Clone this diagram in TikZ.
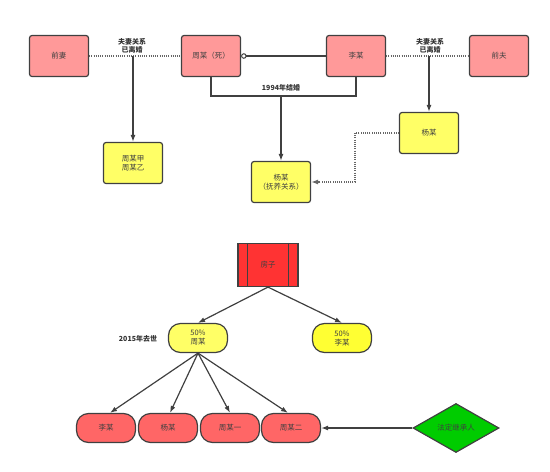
\documentclass[tikz,border=0pt]{standalone}
\usepackage{fontspec}
\newfontfamily\cjk{Noto Sans CJK SC}
\usetikzlibrary{arrows.meta,shapes.geometric,calc}
\definecolor{pinkc}{HTML}{FF9999}
\definecolor{yelc}{HTML}{FFFF66}
\definecolor{yel2}{HTML}{FFFF33}
\definecolor{salc}{HTML}{FF6666}
\definecolor{redc}{HTML}{FF3333}
\definecolor{grnc}{HTML}{00CC00}
\definecolor{edgec}{HTML}{404040}
\tikzset{
 base/.style={draw=edgec, line width=1.2pt, font=\cjk\fontsize{7.5}{9}\selectfont, text=black!75, align=center, inner sep=1pt},
 pbox/.style={base, fill=pinkc, rounded corners=2.5pt, minimum width=59pt, minimum height=41pt},
 ybox/.style={base, fill=yelc, rounded corners=2.5pt, minimum width=59pt, minimum height=41pt},
 pill/.style={base, rounded corners=12pt, minimum width=59pt, minimum height=29pt},
 lbl/.style={font=\cjk\bfseries\fontsize{7}{8.5}\selectfont, text=black!80, align=center, inner sep=0pt},
 conn/.style={draw=edgec, line width=1.2pt},
 arr/.style={conn, -{Latex[length=7pt,width=5pt]}},
 dotl/.style={conn, draw=black!60, dash pattern=on 1pt off 1.2pt, line width=1.2pt},
}
\begin{document}
\begin{tikzpicture}[x=1pt,y=-1pt]
\useasboundingbox (0,0) rectangle (550,472);
% top row
\node[pbox] (qianqi) at (59,56) {前妻};
\node[pbox] (zhou) at (211,56) {周某（死）};
\node[pbox] (li) at (356,56) {李某};
\node[pbox] (qianfu) at (499,56) {前夫};
\node[ybox] (zj) at (133,163) {周某甲\\周某乙};
\node[ybox] (yf) at (281,182) {杨某\\（抚养关系）};
\node[ybox] (yang) at (429,133) {杨某};
\node[lbl] (l1) at (132,46) {夫妻关系\\已离婚};
\node[lbl] (l2) at (430,46) {夫妻关系\\已离婚};
\node[lbl] (l3) at (281,88) {1994年结婚};
\coordinate (m1) at (zj.north |- qianqi.east);
\coordinate (m2) at (yang.north |- li.east);
\coordinate (m3) at (281,96);
\draw[dotl] (qianqi.east) -- (zhou.west);
\draw[dotl] (li.east) -- (qianfu.west);
\draw[arr] (m1) -- (zj.north);
\draw[arr] (m2) -- (yang.north);
\draw[conn, {Circle[open,length=5.5pt,width=5.5pt,line width=1pt]}-] (zhou.east) -- (li.west);
\draw[conn] (zhou.south) |- (m3) -| (li.south);
\draw[arr] (m3) -- (yf.north);
\draw[dotl, -{Latex[length=7pt,width=5pt]}] (yang.west) -- ++(-44,0) |- (yf.east);
% middle
\node[base, fill=redc, minimum width=60pt, minimum height=43pt] (fz) at (268,265) {房子};
\draw[conn] ([xshift=10pt]fz.north west) -- ([xshift=10pt]fz.south west);
\draw[conn] ([xshift=-10pt]fz.north east) -- ([xshift=-10pt]fz.south east);
\node[pill, fill=yelc] (pz) at (198,338) {50\%\\周某};
\node[pill, fill=yel2] (pl) at (342,338) {50\%\\李某};
\node[lbl] (l4) at (138,339) {2015年去世};
\draw[arr] (fz.south) -- (pz.north);
\draw[arr] (fz.south) -- (pl.north);
% bottom
\node[pill, fill=salc] (b1) at (106,428) {李某};
\node[pill, fill=salc] (b2) at (168,428) {杨某};
\node[pill, fill=salc] (b3) at (230,428) {周某一};
\node[pill, fill=salc] (b4) at (291,428) {周某二};
\node[base, diamond, fill=grnc, minimum width=86pt, minimum height=49pt, aspect=1.75, inner sep=0pt] (dm) at (456,428) {法定继承人};
\draw[arr] (pz.south) -- ([xshift=4pt]b1.north);
\draw[arr] (pz.south) -- ([xshift=2pt]b2.north);
\draw[arr] (pz.south) -- (b3.north);
\draw[arr] (pz.south) -- ([xshift=-3pt]b4.north);
\draw[arr] (dm.west) -- (b4.east);
\end{tikzpicture}
\end{document}
